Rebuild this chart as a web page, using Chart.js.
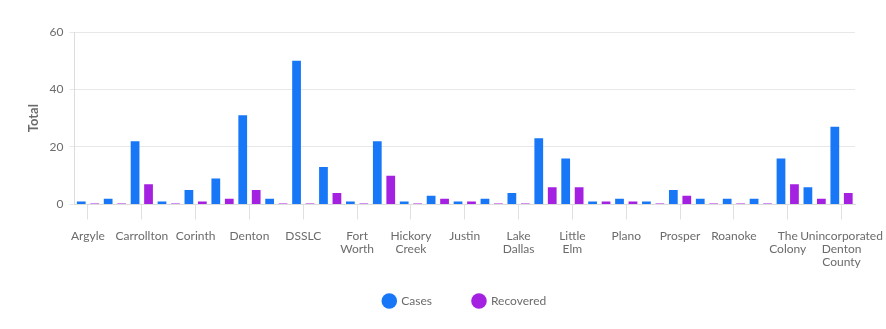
<!DOCTYPE html>
<html>
<head>
<meta charset="utf-8">
<script src="https://cdn.jsdelivr.net/npm/chart.js@4/dist/chart.umd.min.js"></script>
<style>
  html, body { margin: 0; padding: 0; background: #ffffff; }
  #wrap { width: 886px; height: 329px; position: relative; }
</style>
</head>
<body>
<div id="wrap"><canvas id="c"></canvas></div>
<script>
const categories = [
  "Argyle", "Aubrey", "Carrollton", "Copper Canyon", "Corinth", "Dallas",
  "Denton", "Double Oak", "DSSLC", "Flower Mound", "Fort Worth", "Frisco",
  "Hickory Creek", "Highland Village", "Justin", "Krum", "Lake Dallas", "Lewisville",
  "Little Elm", "Northlake", "Plano", "Ponder", "Prosper", "Providence Village",
  "Roanoke", "Sanger", "The Colony", "Trophy Club", "Unincorporated Denton County"
];
const cases = [1, 2, 22, 1, 5, 9, 31, 2, 50, 13, 1, 22, 1, 3, 1, 2, 4, 23, 16, 1, 2, 1, 5, 2, 2, 2, 16, 6, 27];
const recovered = [0, 0, 7, 0, 1, 2, 5, 0, 0, 4, 0, 10, 0, 2, 1, 0, 0, 6, 6, 1, 1, 0, 3, 0, 0, 0, 7, 2, 4];
const yTicks = [0, 20, 40, 60];

const grey = '#6b6b6b';
const fontFamily = 'Lato, "Open Sans", sans-serif';

new Chart(document.getElementById('c'), {
  type: 'bar',
  data: {
    labels: categories,
    datasets: [
      { label: 'Cases', data: cases, backgroundColor: '#1777F7', minBarLength: 1,
        categoryPercentage: 1.0, barPercentage: 0.65 },
      { label: 'Recovered', data: recovered, backgroundColor: '#A521E2', minBarLength: 1,
        categoryPercentage: 1.0, barPercentage: 0.65 }
    ]
  },
  options: {
    responsive: true,
    maintainAspectRatio: false,
    animation: false,
    layout: { padding: { left: 22, right: 31, top: 32, bottom: 12 } },
    plugins: {
      legend: {
        position: 'bottom',
        fullSize: false,
        labels: {
          usePointStyle: true,
          pointStyle: 'circle',
          boxHeight: 11,
          padding: 41,
          color: grey,
          font: { family: fontFamily, size: 12 }
        }
      },
      tooltip: { enabled: false }
    },
    scales: {
      x: {
        offset: true,
        grid: { offset: false, drawOnChartArea: false, drawTicks: true, tickLength: 15, color: '#e0e0e0' },
        border: { color: '#dcdcdc' },
        afterFit: function (scale) {
          scale.height -= 25;
          scale.paddingRight = 0;
          scale._computeLabelArea = function () { return undefined; };
        },
        ticks: {
          autoSkip: false,
          maxRotation: 0,
          minRotation: 0,
          padding: 10,
          color: grey,
          font: { family: fontFamily, size: 12, lineHeight: 1.1 },
          callback: function (value, index) {
            if (index % 2 !== 0) return null;
            return categories[index].split(' ');
          }
        }
      },
      y: {
        min: yTicks[0],
        max: yTicks[yTicks.length - 1],
        afterBuildTicks: function (axis) { axis.ticks = yTicks.map(v => ({ value: v })); },
        grid: { color: '#e8e8e8', tickLength: 5, drawTicks: true },
        border: { color: '#dcdcdc' },
        ticks: { padding: 6, color: grey, font: { family: fontFamily, size: 12 } },
        title: { display: true, text: 'Total', color: grey, padding: { top: 4, bottom: 2 },
                 font: { family: fontFamily, size: 13, weight: 'bold' } }
      }
    }
  }
});
</script>
</body>
</html>
